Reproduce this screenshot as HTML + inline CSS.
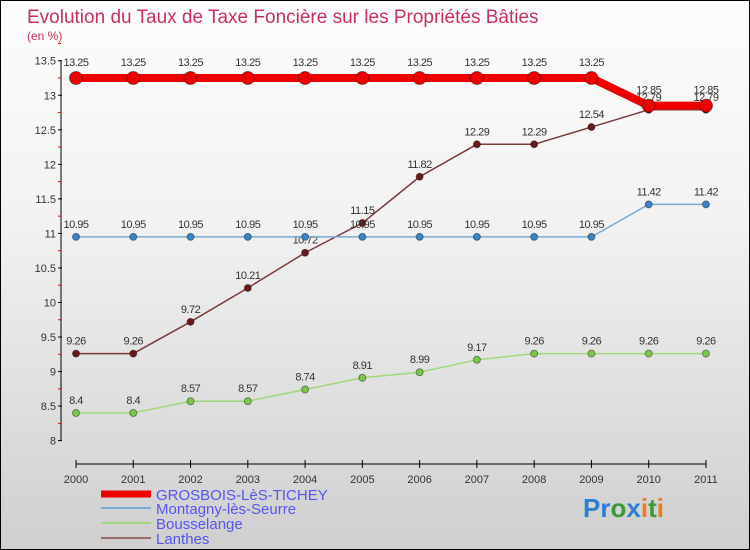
<!DOCTYPE html>
<html><head><meta charset="utf-8"><style>
body{margin:0}
#c{width:748px;height:548px;border:1px solid #000;background:linear-gradient(#fdfdfd,#f2f2f2 40%,#cfcfcf);position:relative;overflow:hidden;font-family:"Liberation Sans",sans-serif}
text{font-family:"Liberation Sans",sans-serif}
</style></head><body>
<div id="c">
<svg width="748" height="548" id="s">
<text x="26" y="22" font-size="19" fill="#c8305a">Evolution du Taux de Taxe Foncière sur les Propriétés Bâties</text>
<text x="26" y="39" font-size="12" fill="#c8305a">(en %)</text>
<g id="axes"></g><g id="series"></g>
<g>
<line x1="100" y1="493" x2="150" y2="493" stroke="#e00" stroke-width="7"/>
<text x="155" y="499" font-size="15" fill="#5555ee">GROSBOIS-LèS-TICHEY</text>
<line x1="100" y1="507" x2="150" y2="507" stroke="#7aaad0" stroke-width="2"/>
<text x="155" y="513" font-size="15" fill="#5555ee">Montagny-lès-Seurre</text>
<line x1="100" y1="522" x2="150" y2="522" stroke="#9fd87a" stroke-width="2"/>
<text x="155" y="528" font-size="15" fill="#5555ee">Bousselange</text>
<line x1="100" y1="537" x2="150" y2="537" stroke="#9a6a6a" stroke-width="2"/>
<text x="155" y="543" font-size="15" fill="#5555ee">Lanthes</text>
</g>
<text x="582" y="516" font-size="26" font-weight="bold"><tspan fill="#2a7fd0">Pr</tspan><tspan fill="#3a9a3a">o</tspan><tspan fill="#2a7fd0">x</tspan><tspan fill="#f07a1a">i</tspan><tspan fill="#3a9a3a">t</tspan><tspan fill="#f07a1a">i</tspan></text>
</svg></div>
<script>
const years=["2000","2001","2002","2003","2004","2005","2006","2007","2008","2009","2010","2011"];
const yTicks=[8,8.5,9,9.5,10,10.5,11,11.5,12,12.5,13,13.5];
const grosbois=[13.25,13.25,13.25,13.25,13.25,13.25,13.25,13.25,13.25,13.25,12.85,12.85];
const montagny=[10.95,10.95,10.95,10.95,10.95,10.95,10.95,10.95,10.95,10.95,11.42,11.42];
const bousselange=[8.4,8.4,8.57,8.57,8.74,8.91,8.99,9.17,9.26,9.26,9.26,9.26];
const lanthes=[9.26,9.26,9.72,10.21,10.72,11.15,11.82,12.29,12.29,12.54,12.79,12.79];
const NS="http://www.w3.org/2000/svg";
const X=i=>75+i*57.27;
const Y=v=>77+(13.25-v)*69.07;
function mk(t,a,p){const e=document.createElementNS(NS,t);for(const k in a)e.setAttribute(k,a[k]);p.appendChild(e);return e;}
const ax=document.getElementById('axes'),se=document.getElementById('series');
let yl=mk('line',{x1:60,y1:Y(13.5),x2:60,y2:Y(8),stroke:'#000'},ax);


yTicks.forEach(v=>{
 mk('line',{x1:57,y1:Y(v),x2:61,y2:Y(v),stroke:'#000'},ax);
 mk('line',{x1:57,y1:Y(v+0.25),x2:60,y2:Y(v+0.25),stroke:'#e00'},ax);
 const t=mk('text',{x:55,y:Y(v)+4,'text-anchor':'end','font-size':11,fill:'#333'},ax);t.textContent=v;
 
 
});
let xl=mk('line',{x1:X(0),y1:463,x2:X(11),y2:463,stroke:'#000'},ax);


years.forEach((y,i)=>{
 mk('line',{x1:X(i),y1:459,x2:X(i),y2:467,stroke:'#000'},ax);
 const t=mk('text',{x:X(i),y:482,'text-anchor':'middle','font-size':11,fill:'#333'},ax);t.textContent=y;
 
 
});
function draw(name,d,col,w,r,dot,labOff){
 const g=mk('g',{},se);
 
 
 mk('polyline',{points:d.map((v,i)=>X(i)+','+Y(v)).join(' '),fill:'none',stroke:col,'stroke-width':w},g);
 d.forEach((v,i)=>{
  const c=mk('circle',{cx:X(i),cy:Y(v),r:r,fill:dot,stroke:'rgba(0,0,0,0.4)','stroke-width':1},g);
  
  
  const t=mk('text',{x:X(i),y:Y(v)-labOff,'text-anchor':'middle','font-size':11,fill:'#333','letter-spacing':'-0.5'},g);t.textContent=v;
  
  
 });
}
draw('bousselange',bousselange,'#9fd87a',1.5,3.5,'#7cc84a',9);
draw('lanthes',lanthes,'#7a3a3a',1.5,3.5,'#6a1a1a',9);
draw('montagny',montagny,'#7aaad0',1.5,3.5,'#3a85c5',9);
draw('grosbois',grosbois,'#e00',8,6.5,'#e00',12);
</script>
</body></html>
